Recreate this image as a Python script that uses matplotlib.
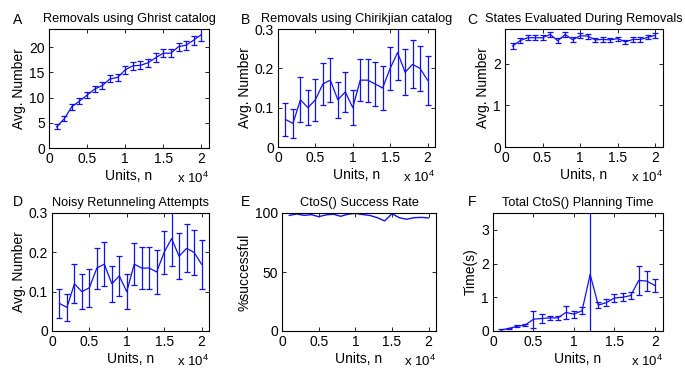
import numpy as np
import matplotlib
matplotlib.use("Agg")
import matplotlib.pyplot as plt

plt.rcParams["font.family"] = ["Liberation Sans", "DejaVu Sans"]
plt.rcParams["mathtext.default"] = "regular"

# Units, n
units = np.arange(1000, 20001, 1000)

# A: removals using Ghrist catalog
ghrist_mean = [4.2, 5.8, 8.2, 9.3, 10.5, 11.7, 12.4, 13.7, 14.0, 15.5,
               16.3, 16.4, 16.9, 17.9, 18.8, 18.8, 20.1, 20.4, 21.4, 22.5]
ghrist_err = [0.5, 0.5, 0.6, 0.6, 0.6, 0.6, 0.7, 0.7, 0.7, 0.8,
              0.8, 0.8, 0.8, 0.9, 0.8, 0.8, 0.8, 0.9, 0.9, 1.2]

# B: removals using Chirikjian catalog
chir_mean = [0.07, 0.06, 0.12, 0.10, 0.12, 0.16, 0.17, 0.12, 0.14, 0.10,
             0.17, 0.17, 0.16, 0.15, 0.20, 0.24, 0.19, 0.21, 0.20, 0.17]
chir_err = [0.042, 0.037, 0.057, 0.044, 0.054, 0.053, 0.056, 0.046, 0.05, 0.044,
            0.054, 0.055, 0.055, 0.055, 0.055, 0.07, 0.058, 0.061, 0.058, 0.062]

# C: states evaluated during removals
states_mean = [2.42, 2.55, 2.62, 2.62, 2.62, 2.70, 2.55, 2.70, 2.57, 2.67,
               2.66, 2.57, 2.58, 2.57, 2.60, 2.52, 2.58, 2.58, 2.63, 2.68]
states_err = [0.07, 0.06, 0.06, 0.06, 0.06, 0.06, 0.06, 0.06, 0.06, 0.06,
              0.06, 0.05, 0.05, 0.05, 0.05, 0.05, 0.05, 0.05, 0.05, 0.06]

# D: noisy retunneling attempts
noisy_mean = [0.07, 0.06, 0.12, 0.10, 0.11, 0.16, 0.17, 0.12, 0.14, 0.10,
              0.17, 0.16, 0.16, 0.15, 0.20, 0.235, 0.19, 0.21, 0.20, 0.17]
noisy_err = [0.038, 0.035, 0.05, 0.044, 0.048, 0.052, 0.056, 0.046, 0.05, 0.044,
             0.054, 0.054, 0.054, 0.055, 0.055, 0.07, 0.058, 0.061, 0.058, 0.062]

# E: CtoS() success rate (%)
success = [98.0, 99.2, 98.0, 98.6, 96.9, 98.4, 99.0, 97.2, 99.0, 99.7,
           98.7, 97.9, 96.0, 93.3, 99.4, 96.0, 94.7, 96.0, 96.3, 95.8]

# F: total CtoS() planning time (s)
time_mean = [0.03, 0.08, 0.14, 0.18, 0.35, 0.37, 0.39, 0.39, 0.55, 0.50,
             0.60, 1.68, 0.77, 0.84, 0.98, 1.00, 1.05, 1.50, 1.48, 1.35]
time_err = [0.02, 0.02, 0.03, 0.03, 0.25, 0.12, 0.06, 0.06, 0.2, 0.1,
            0.1, 2.5, 0.08, 0.1, 0.12, 0.12, 0.1, 0.42, 0.3, 0.2]

W, H = 685, 369
fig = plt.figure(figsize=(W / 100, H / 100), dpi=100)


def make_axes(l, r, t, b):
    return fig.add_axes([l / W, 1 - b / H, (r - l) / W, (b - t) / H])


def style(ax, title, ylabel, ylim, yticks):
    ax.set_xlim(0, 21000)
    ax.set_ylim(*ylim)
    ax.set_xticks([0, 5000, 10000, 15000, 20000])
    ax.set_xticklabels(["0", "0.5", "1", "1.5", "2"])
    ax.set_yticks(yticks)
    ax.set_yticklabels([("%g" % v) for v in yticks])
    ax.tick_params(direction="in", length=3, width=0.6, top=True, right=True,
                   labelsize=10, pad=3)
    for s in ax.spines.values():
        s.set_linewidth(0.8)
    ax.set_title(title, fontsize=9.2, pad=5)
    ax.set_ylabel(ylabel, fontsize=10, labelpad=2)
    ax.set_xlabel("Units, n", fontsize=10, labelpad=2)
    # exponent of the x axis, as MATLAB puts it
    ax.text(1.0, -0.195, r"x 10$^{4}$", transform=ax.transAxes, fontsize=9.5,
            ha="right", va="top")


blue = "#1010f4"
eb = dict(color=blue, lw=0.9, elinewidth=0.9, capsize=2, capthick=0.9)

axA = make_axes(49, 209, 29, 148)
axA.errorbar(units, ghrist_mean, yerr=ghrist_err, **eb)
style(axA, "Removals using Ghrist catalog", "Avg. Number", (0, 23.6), [0, 5, 10, 15, 20])

axB = make_axes(278, 435, 29, 147)
axB.errorbar(units, chir_mean, yerr=chir_err, **eb)
style(axB, "Removals using Chirikjian catalog", "Avg. Number", (0, 0.3), [0, 0.1, 0.2, 0.3])

axC = make_axes(505, 663, 29, 147)
axC.errorbar(units, states_mean, yerr=states_err, **eb)
style(axC, "States Evaluated During Removals", "Avg. Number", (0, 2.83), [0, 1, 2])

axD = make_axes(52, 209, 213, 331)
axD.errorbar(units, noisy_mean, yerr=noisy_err, **eb)
style(axD, "Noisy Retunneling Attempts", "Avg. Number", (0, 0.3), [0, 0.1, 0.2, 0.3])

axE = make_axes(282, 436, 213, 331)
axE.plot(units, success, color=blue, lw=1.0)
style(axE, "CtoS() Success Rate", "%successful", (0, 100), [0, 50, 100])

axF = make_axes(493, 663, 213, 331)
axF.errorbar(units, time_mean, yerr=time_err, **eb)
style(axF, "Total CtoS() Planning Time", "Time(s)", (0, 3.5), [0, 1, 2, 3])

# panel letters
for letter, px, py in [("A", 18, 20), ("B", 246, 20), ("C", 472, 20),
                       ("D", 18, 202), ("E", 246, 202), ("F", 472, 202)]:
    fig.text(px / W, 1 - py / H, letter, fontsize=10, ha="center", va="center")

plt.savefig("out.png", dpi=100)
